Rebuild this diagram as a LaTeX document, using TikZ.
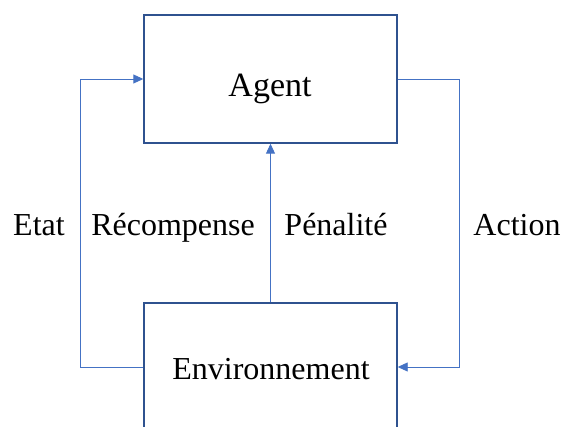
\documentclass[tikz,border=0pt]{standalone}
\usepackage{fontspec}
\setmainfont{Liberation Serif}
\usetikzlibrary{arrows.meta}
\definecolor{boxblue}{HTML}{2F528F}
\definecolor{linkblue}{HTML}{4472C4}
\begin{document}
\begin{tikzpicture}[x=1pt,y=-1pt,
  box/.style={draw=boxblue,line width=1.4pt,fill=white,rectangle,inner sep=0pt},
  link/.style={draw=linkblue,line width=0.9pt,-{Triangle[length=10pt,width=9pt]}},
  lbl/.style={anchor=base,font=\fontsize{32}{36}\selectfont,inner sep=0pt}]
  \useasboundingbox (0,0) rectangle (563,427);
  \clip (0,0) rectangle (563,427);
  % the two boxes
  \node[box,minimum width=253pt,minimum height=128pt] (agent) at (270.5,79) {};
  \node[box,minimum width=253pt,minimum height=140pt] (env) at (270.5,373) {};
  \node[lbl,font=\fontsize{34}{40}\selectfont] (agenttxt) at (270,97) {Agent};
  \node[lbl] (envtxt) at (271,380) {Environnement};
  % connectors
  \coordinate (envleft) at ([yshift=6pt]env.west);
  \coordinate (envright) at ([yshift=6pt]env.east);
  \draw[link] (envleft) -| (80,79) -- (agent.west);
  \draw[link] (agent.east) -| (459,367) -- (envright);
  \draw[link] (env.north) -- (agent.south);
  % labels
  \node[lbl] (etat) at (39,236) {Etat};
  \node[lbl] (recomp) at (173,236) {Récompense};
  \node[lbl] (penal) at (336,236) {Pénalité};
  \node[lbl] (action) at (517,236) {Action};
\end{tikzpicture}
\end{document}
